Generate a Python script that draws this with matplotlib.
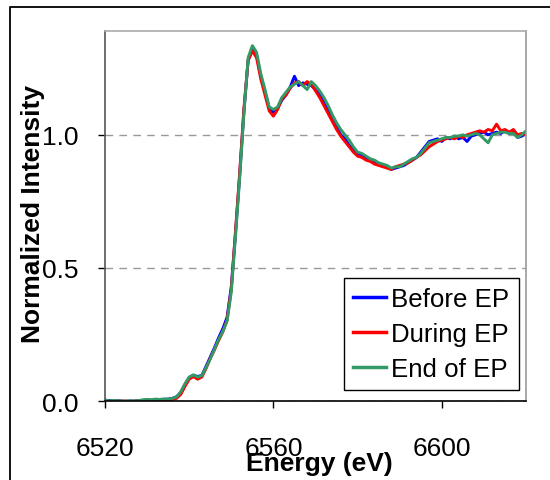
import numpy as np
import matplotlib
matplotlib.use("Agg")
import matplotlib.pyplot as plt
from matplotlib.lines import Line2D

plt.rcParams['font.family'] = ['Liberation Sans', 'DejaVu Sans']

energy = list(range(6520, 6621))

before_ep = [
    0.000, 0.002, 0.000, 0.001, 0.000, -0.002, 0.000, -0.001, 0.001, 0.003,
    0.004, 0.002, 0.005, 0.004, 0.006, 0.007, 0.010, 0.016, 0.032, 0.062,
    0.088, 0.097, 0.092, 0.096, 0.130, 0.165, 0.200, 0.238, 0.272, 0.315,
    0.430, 0.630, 0.850, 1.090, 1.280, 1.320, 1.300, 1.220, 1.160, 1.100,
    1.085, 1.100, 1.130, 1.150, 1.180, 1.220, 1.185, 1.195, 1.190, 1.185,
    1.170, 1.150, 1.120, 1.090, 1.060, 1.030, 1.000, 0.985, 0.960, 0.945,
    0.930, 0.925, 0.915, 0.905, 0.900, 0.890, 0.885, 0.880, 0.870, 0.875,
    0.880, 0.885, 0.895, 0.905, 0.915, 0.935, 0.955, 0.975, 0.980, 0.985,
    0.975, 0.990, 0.985, 0.995, 0.985, 0.990, 0.975, 0.995, 1.000, 1.005,
    1.010, 1.000, 1.005, 1.010, 1.005, 1.015, 1.005, 1.010, 0.990, 0.995,
    1.005,
]

during_ep = [
    0.000, -0.002, 0.001, 0.000, -0.001, 0.000, -0.002, 0.000, 0.002, 0.001,
    0.003, 0.001, 0.004, 0.002, 0.005, 0.004, 0.006, 0.010, 0.025, 0.055,
    0.082, 0.092, 0.082, 0.090, 0.122, 0.160, 0.192, 0.228, 0.260, 0.305,
    0.420, 0.640, 0.860, 1.100, 1.280, 1.315, 1.290, 1.210, 1.150, 1.090,
    1.070, 1.095, 1.135, 1.150, 1.175, 1.195, 1.200, 1.185, 1.200, 1.190,
    1.165, 1.140, 1.110, 1.080, 1.050, 1.020, 0.995, 0.975, 0.955, 0.935,
    0.920, 0.915, 0.905, 0.900, 0.890, 0.885, 0.880, 0.875, 0.870, 0.880,
    0.885, 0.890, 0.895, 0.905, 0.915, 0.925, 0.940, 0.955, 0.965, 0.975,
    0.980, 0.985, 0.990, 0.985, 0.995, 0.990, 1.000, 1.005, 1.010, 1.015,
    1.010, 1.020, 1.015, 1.040, 1.015, 1.020, 1.010, 1.020, 1.000, 1.005,
    1.000,
]

end_of_ep = [
    0.005, 0.000, 0.002, 0.001, -0.001, 0.000, 0.001, 0.000, 0.002, 0.004,
    0.006, 0.005, 0.007, 0.006, 0.008, 0.007, 0.010, 0.015, 0.035, 0.065,
    0.090, 0.098, 0.090, 0.095, 0.125, 0.158, 0.195, 0.232, 0.262, 0.300,
    0.410, 0.620, 0.840, 1.080, 1.290, 1.335, 1.310, 1.230, 1.170, 1.105,
    1.095, 1.105, 1.140, 1.160, 1.180, 1.190, 1.200, 1.185, 1.170, 1.200,
    1.185, 1.165, 1.140, 1.110, 1.075, 1.045, 1.020, 1.000, 0.980, 0.955,
    0.935, 0.930, 0.920, 0.910, 0.905, 0.895, 0.890, 0.885, 0.875, 0.880,
    0.880, 0.890, 0.900, 0.910, 0.915, 0.930, 0.950, 0.970, 0.975, 0.980,
    0.985, 0.990, 0.990, 0.995, 0.995, 1.000, 0.995, 1.000, 1.005, 1.000,
    0.985, 0.970, 1.000, 1.005, 1.010, 1.010, 1.005, 1.005, 0.990, 1.000,
    1.015,
]

series_labels = ["Before EP", "During EP", "End of EP"]
series_colors = ["#0000FF", "#FF0000", "#339966"]
xticks = [6520, 6560, 6600]
yticks = [0.0, 0.5, 1.0]
ytick_labels = ["0.0", "0.5", "1.0"]

W, H = 550, 481
fig = plt.figure(figsize=(W / 100, H / 100), dpi=100)
ax = fig.add_axes([105 / W, 1 - 402 / H, (526 - 105) / W, (402 - 32) / H])

for vals, lab, col in zip([before_ep, during_ep, end_of_ep], series_labels, series_colors):
    ax.plot(energy, vals, color=col, lw=2.1, label=lab, solid_joinstyle='round')

ax.set_xlim(6520, 6620)
ax.set_ylim(0, 1.39)
ax.set_xticks(xticks)
ax.set_yticks(yticks)
ax.set_yticklabels(ytick_labels)
ax.tick_params(axis='both', direction='out', length=5, width=1, labelsize=19, colors='black')
ax.tick_params(axis='x', pad=20)
ax.tick_params(axis='y', pad=14)
ax.yaxis.grid(True, linestyle=(0, (5.5, 4.5)), color='#999999', lw=1)
ax.set_axisbelow(True)

ax.spines['left'].set_color('#555555')
ax.spines['bottom'].set_color('black')
ax.spines['top'].set_color('#aaaaaa')
ax.spines['right'].set_color('#999999')
for s in ax.spines.values():
    s.set_linewidth(1.2)

ax.set_xlabel("Energy (eV)", fontsize=19, fontweight='bold', va='center')
ax.set_ylabel("Normalized Intensity", fontsize=19, fontweight='bold', va='center')
ax.xaxis.set_label_coords((319 - 105) / 421, (402 - 464) / 370)
ax.yaxis.set_label_coords((33 - 105) / 421, (402 - 214) / 370)

leg = ax.legend(loc='lower right', bbox_to_anchor=(0.983, 0.030), borderaxespad=0,
                fontsize=18.6, handlelength=1.25, handletextpad=0.22, labelspacing=0.42,
                borderpad=0.36, fancybox=False, framealpha=1, edgecolor='black')
leg.get_frame().set_linewidth(1.0)
for h in leg.get_lines():
    h.set_linewidth(2.5)

fig.add_artist(Line2D([10 / W, 10 / W, 1.0], [0.0, 1 - 8 / H, 1 - 8 / H],
                      color='black', lw=1.3, transform=fig.transFigure))

fig.savefig("out.png", dpi=100)
